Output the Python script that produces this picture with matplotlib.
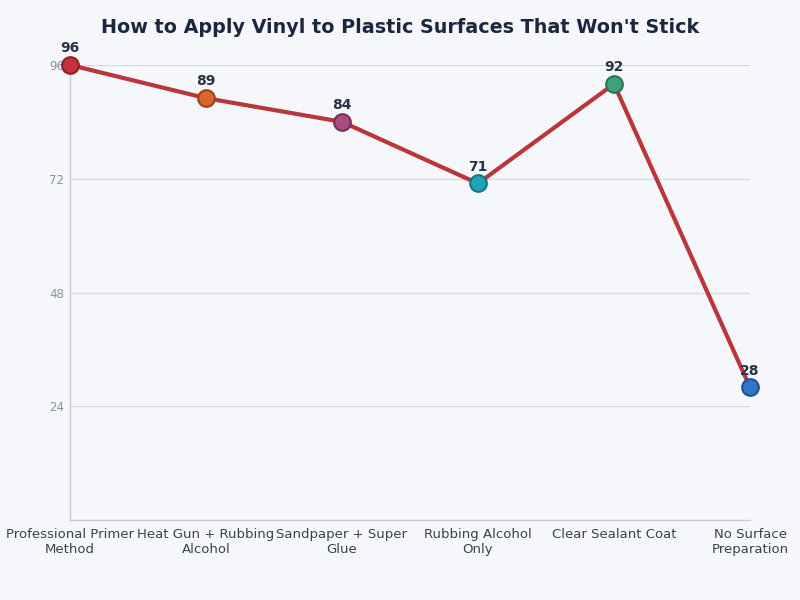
import matplotlib
matplotlib.use("Agg")
import matplotlib.pyplot as plt

categories = ["Professional Primer\nMethod", "Heat Gun + Rubbing\nAlcohol", "Sandpaper + Super\nGlue",
              "Rubbing Alcohol\nOnly", "Clear Sealant Coat", "No Surface\nPreparation"]
values = [96, 89, 84, 71, 92, 28]
marker_colors = ["#C4323B", "#D9652B", "#A94B80", "#22A3B6", "#3FA27A", "#2F77C4"]
edge_colors = ["#8E1F27", "#9A4318", "#77305A", "#147584", "#27755A", "#1E5390"]
yticks = [24, 48, 72, 96]

bg = "#F5F7FB"
fig = plt.figure(figsize=(8, 6), dpi=100, facecolor=bg)
ax = fig.add_axes([0.0875, 0.1333, 0.85, 0.7584], facecolor=bg)

x = list(range(len(values)))
ax.plot(x, values, color="#BA363B", linewidth=3, zorder=3, clip_on=False)
for xi, v, c, ec in zip(x, values, marker_colors, edge_colors):
    ax.plot(xi, v, 'o', markersize=12, markerfacecolor=c, markeredgecolor=ec,
            markeredgewidth=1.5, zorder=4, clip_on=False)
    ax.annotate(str(v), (xi, v), xytext=(0, 7), textcoords="offset points",
                ha="center", va="bottom", fontsize=10, fontweight="bold", color="#2A3245")

ax.set_xlim(0, 5)
ax.set_ylim(0, 96)
ax.set_yticks(yticks)
ax.set_xticks(x)
ax.set_xticklabels(categories, fontsize=9.5, color="#3A4152", linespacing=1.15)
ax.tick_params(axis="y", labelsize=8.5, colors="#8A92A2", length=0, pad=4)
ax.tick_params(axis="x", length=0, pad=6)
ax.grid(axis="y", color="#D5D9E0", linewidth=0.9)
ax.set_axisbelow(True)
for s in ["top", "right"]:
    ax.spines[s].set_visible(False)
for s in ["left", "bottom"]:
    ax.spines[s].set_color("#C5CAD3")
    ax.spines[s].set_linewidth(1)

fig.suptitle("How to Apply Vinyl to Plastic Surfaces That Won't Stick", fontsize=13.8,
             fontweight="bold", color="#1B2641", y=0.97)

fig.savefig("out.png", dpi=100, facecolor=bg)
